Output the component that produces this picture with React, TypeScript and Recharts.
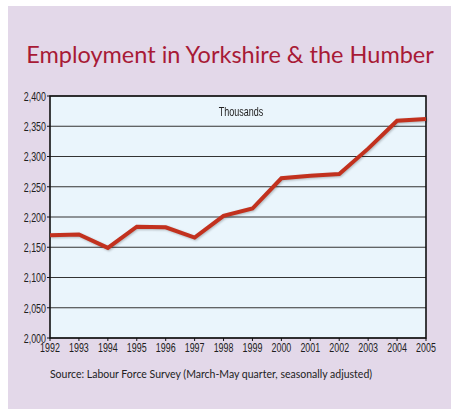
import React from 'react';
import { LineChart, Line, XAxis, YAxis, CartesianGrid, ReferenceArea } from 'recharts';

const years = [1992, 1993, 1994, 1995, 1996, 1997, 1998, 1999, 2000, 2001, 2002, 2003, 2004, 2005];
const employment = [2170, 2171, 2149, 2184, 2183, 2166, 2202, 2214, 2264, 2268, 2271, 2313, 2359, 2362];
const yTicks = [2000, 2050, 2100, 2150, 2200, 2250, 2300, 2350, 2400];

const chartData = years.map((year, i) => ({ year, value: employment[i] }));

const tickFont = "'Liberation Sans', Arial, sans-serif";

// condensed-looking tick label: normal font squeezed horizontally
const NarrowTick = (props: any) => {
  const { x, y, payload, textAnchor, vertical } = props;
  const label = vertical ? Number(payload.value).toLocaleString('en-GB') : String(payload.value);
  return (
    <g transform={`translate(${x},${y})`}>
      <text
        transform="scale(0.66,1)"
        textAnchor={textAnchor}
        dy={vertical ? '0.36em' : '0.76em'}
        fontSize={13.5}
        fontFamily={tickFont}
        fill="#1e1e1e"
      >
        {label}
      </text>
    </g>
  );
};

const App: React.FC = () => {
  return (
    <div style={{ position: 'absolute', left: 0, top: 0, width: 454, height: 409, background: '#fff' }}>
      <div
        style={{
          position: 'absolute',
          left: 8,
          top: 6,
          width: 443,
          height: 403,
          background: '#e3d8e9',
          fontFamily: 'Lato, sans-serif',
        }}
      >
        <div
          style={{
            position: 'absolute',
            left: 0,
            top: 34,
            width: 444,
            textAlign: 'center',
            fontSize: 23.5,
            color: '#a81a36',
            whiteSpace: 'nowrap',
          }}
        >
          Employment in Yorkshire &amp; the Humber
        </div>

        <div style={{ position: 'absolute', left: 0, top: 80 }}>
          <LineChart width={443} height={280} data={chartData} margin={{ top: 10, right: 25, bottom: 8, left: 0 }}>
            <CartesianGrid vertical={false} fill="#eaf5fc" stroke="#333" strokeWidth={1.2} />
            <XAxis
              dataKey="year"
              type="number"
              domain={[1992, 2005]}
              ticks={years}
              height={20}
              interval={0}
              tickSize={3}
              tickMargin={1}
              axisLine={false}
              tickLine={{ stroke: '#111' }}
              tick={<NarrowTick />}
            />
            <YAxis
              domain={[2000, 2400]}
              ticks={yTicks}
              width={42}
              tickSize={3}
              tickMargin={1}
              interval={0}
              axisLine={false}
              tickLine={{ stroke: '#111' }}
              tick={<NarrowTick vertical />}
            />
            <ReferenceArea x1={1992} x2={2005} y1={2000} y2={2400} fill="none" stroke="#111" strokeWidth={1.6} ifOverflow="visible" />
            <Line
              type="linear"
              dataKey="value"
              stroke="#c2311e"
              strokeWidth={4}
              dot={false}
              style={{ filter: 'drop-shadow(1px 1.5px 0.8px rgba(0,0,0,0.25))' }}
              isAnimationActive={false}
            />
          </LineChart>
        </div>

        <div
          style={{
            position: 'absolute',
            left: 0,
            top: 99,
            width: 466,
            textAlign: 'center',
            fontSize: 12,
            fontFamily: tickFont,
            color: '#222',
            transform: 'scaleX(0.75)',
            transformOrigin: '233px 0',
          }}
        >
          Thousands
        </div>

        <div
          style={{
            position: 'absolute',
            left: 0,
            top: 362,
            width: 406,
            textAlign: 'center',
            fontSize: 10.5,
            color: '#222',
            whiteSpace: 'nowrap',
          }}
        >
          Source: Labour Force Survey (March-May quarter, seasonally adjusted)
        </div>
      </div>
    </div>
  );
};

export default App;
